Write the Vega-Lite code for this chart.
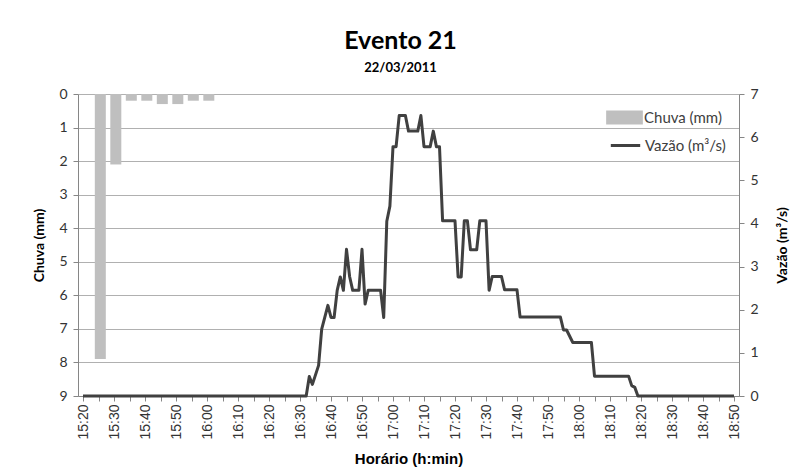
{
  "$schema": "https://vega.github.io/schema/vega-lite/v6.json",
  "width": 661,
  "height": 302,
  "autosize": "none",
  "padding": {"left": 78, "top": 94, "right": 62, "bottom": 78},
  "background": "white",
  "title": {
    "text": "Evento 21",
    "subtitle": "22/03/2011",
    "font": "Lato",
    "fontSize": 25,
    "fontWeight": "bold",
    "color": "#000000",
    "subtitleFont": "Lato",
    "subtitleFontSize": 13,
    "subtitleFontWeight": "bold",
    "subtitleColor": "#000000",
    "subtitlePadding": 8,
    "anchor": "middle",
    "frame": "group",
    "offset": 12,
    "dx": -8
  },
  "datasets": {
    "chuva": [
      {"hora": "2011-03-22T15:25:35Z", "chuva": 7.9},
      {"hora": "2011-03-22T15:30:35Z", "chuva": 2.1},
      {"hora": "2011-03-22T15:35:35Z", "chuva": 0.2},
      {"hora": "2011-03-22T15:40:35Z", "chuva": 0.2},
      {"hora": "2011-03-22T15:45:35Z", "chuva": 0.3},
      {"hora": "2011-03-22T15:50:35Z", "chuva": 0.3},
      {"hora": "2011-03-22T15:55:35Z", "chuva": 0.2},
      {"hora": "2011-03-22T16:00:35Z", "chuva": 0.2}
    ],
    "vazao": [
      {"hora": "2011-03-22T15:20:00Z", "vazao": 0},
      {"hora": "2011-03-22T16:32:00Z", "vazao": 0},
      {"hora": "2011-03-22T16:33:00Z", "vazao": 0.45},
      {"hora": "2011-03-22T16:34:00Z", "vazao": 0.27},
      {"hora": "2011-03-22T16:36:00Z", "vazao": 0.71},
      {"hora": "2011-03-22T16:37:00Z", "vazao": 1.55},
      {"hora": "2011-03-22T16:39:00Z", "vazao": 2.1},
      {"hora": "2011-03-22T16:40:00Z", "vazao": 1.82},
      {"hora": "2011-03-22T16:41:00Z", "vazao": 1.82},
      {"hora": "2011-03-22T16:42:00Z", "vazao": 2.45},
      {"hora": "2011-03-22T16:43:00Z", "vazao": 2.76},
      {"hora": "2011-03-22T16:44:00Z", "vazao": 2.45},
      {"hora": "2011-03-22T16:45:00Z", "vazao": 3.4},
      {"hora": "2011-03-22T16:46:00Z", "vazao": 2.77},
      {"hora": "2011-03-22T16:47:00Z", "vazao": 2.45},
      {"hora": "2011-03-22T16:49:00Z", "vazao": 2.45},
      {"hora": "2011-03-22T16:50:00Z", "vazao": 3.4},
      {"hora": "2011-03-22T16:51:00Z", "vazao": 2.13},
      {"hora": "2011-03-22T16:52:00Z", "vazao": 2.45},
      {"hora": "2011-03-22T16:56:00Z", "vazao": 2.45},
      {"hora": "2011-03-22T16:57:00Z", "vazao": 1.82},
      {"hora": "2011-03-22T16:58:00Z", "vazao": 4.05},
      {"hora": "2011-03-22T16:59:00Z", "vazao": 4.4},
      {"hora": "2011-03-22T17:00:00Z", "vazao": 5.78},
      {"hora": "2011-03-22T17:01:00Z", "vazao": 5.78},
      {"hora": "2011-03-22T17:02:00Z", "vazao": 6.5},
      {"hora": "2011-03-22T17:04:00Z", "vazao": 6.5},
      {"hora": "2011-03-22T17:05:00Z", "vazao": 6.14},
      {"hora": "2011-03-22T17:08:00Z", "vazao": 6.14},
      {"hora": "2011-03-22T17:09:00Z", "vazao": 6.5},
      {"hora": "2011-03-22T17:10:00Z", "vazao": 5.78},
      {"hora": "2011-03-22T17:12:00Z", "vazao": 5.78},
      {"hora": "2011-03-22T17:13:00Z", "vazao": 6.14},
      {"hora": "2011-03-22T17:14:00Z", "vazao": 5.78},
      {"hora": "2011-03-22T17:15:00Z", "vazao": 5.78},
      {"hora": "2011-03-22T17:16:00Z", "vazao": 4.06},
      {"hora": "2011-03-22T17:20:00Z", "vazao": 4.06},
      {"hora": "2011-03-22T17:21:00Z", "vazao": 2.76},
      {"hora": "2011-03-22T17:22:00Z", "vazao": 2.76},
      {"hora": "2011-03-22T17:23:00Z", "vazao": 4.06},
      {"hora": "2011-03-22T17:24:00Z", "vazao": 4.06},
      {"hora": "2011-03-22T17:25:00Z", "vazao": 3.39},
      {"hora": "2011-03-22T17:27:00Z", "vazao": 3.39},
      {"hora": "2011-03-22T17:28:00Z", "vazao": 4.06},
      {"hora": "2011-03-22T17:30:00Z", "vazao": 4.06},
      {"hora": "2011-03-22T17:31:00Z", "vazao": 2.45},
      {"hora": "2011-03-22T17:32:00Z", "vazao": 2.77},
      {"hora": "2011-03-22T17:35:00Z", "vazao": 2.77},
      {"hora": "2011-03-22T17:36:00Z", "vazao": 2.46},
      {"hora": "2011-03-22T17:40:00Z", "vazao": 2.46},
      {"hora": "2011-03-22T17:41:00Z", "vazao": 1.83},
      {"hora": "2011-03-22T17:54:00Z", "vazao": 1.83},
      {"hora": "2011-03-22T17:55:00Z", "vazao": 1.53},
      {"hora": "2011-03-22T17:56:00Z", "vazao": 1.53},
      {"hora": "2011-03-22T17:58:00Z", "vazao": 1.24},
      {"hora": "2011-03-22T18:04:00Z", "vazao": 1.24},
      {"hora": "2011-03-22T18:05:00Z", "vazao": 0.46},
      {"hora": "2011-03-22T18:16:00Z", "vazao": 0.46},
      {"hora": "2011-03-22T18:17:00Z", "vazao": 0.24},
      {"hora": "2011-03-22T18:18:00Z", "vazao": 0.2},
      {"hora": "2011-03-22T18:19:00Z", "vazao": 0},
      {"hora": "2011-03-22T18:50:00Z", "vazao": 0}
    ]
  },
  "layer": [
    {
      "data": {"name": "chuva"},
      "mark": {"type": "bar", "size": 11},
      "encoding": {
        "x": {
          "field": "hora",
          "type": "temporal",
          "scale": {
            "type": "utc",
            "nice": false,
            "domain": [
              {"year": 2011, "month": 3, "date": 22, "hours": 15, "minutes": 20, "utc": true},
              {"year": 2011, "month": 3, "date": 22, "hours": 18, "minutes": 50, "utc": true}
            ]
          },
          "axis": {
            "title": "Horário (h:min)",
            "tickCount": 42,
            "labelExpr": "utcminutes(datum.value) % 10 == 0 ? utcFormat(datum.value, '%H:%M') : ''",
            "labelAngle": -90,
            "labelAlign": "right",
            "labelBaseline": "middle",
            "labelOverlap": false,
            "labelFlush": false,
            "labelFont": "Liberation Sans",
            "labelFontSize": 14,
            "labelColor": "#333333",
            "labelPadding": 3,
            "grid": false,
            "tickSize": 5,
            "tickColor": "#868686",
            "domainColor": "#868686",
            "titleFont": "Liberation Sans",
            "titleFontSize": 15,
            "titleFontWeight": "bold",
            "titleColor": "#000000",
            "titlePadding": 12
          }
        },
        "y": {
          "field": "chuva",
          "type": "quantitative",
          "scale": {"domain": [0, 9], "reverse": true, "nice": false},
          "axis": {
            "title": "Chuva (mm)",
            "values": [0, 1, 2, 3, 4, 5, 6, 7, 8, 9],
            "grid": true,
            "gridColor": "#b0b0b0",
            "tickSize": 5,
            "tickColor": "#868686",
            "domainColor": "#868686",
            "labelFont": "Lato",
            "labelFontSize": 14,
            "labelColor": "#333333",
            "labelPadding": 6,
            "titleFont": "Lato",
            "titleFontSize": 14,
            "titleFontWeight": "bold",
            "titleColor": "#000000",
            "titlePadding": 12
          }
        },
        "color": {
          "datum": "Chuva (mm)",
          "type": "nominal",
          "scale": {"range": ["#bfbfbf"]},
          "legend": {
            "orient": "none",
            "legendX": 528,
            "legendY": 5,
            "title": null,
            "symbolType": "M-1,-0.38L1,-0.38L1,0.38L-1,0.38Z",
            "symbolSize": 1347,
            "symbolStrokeWidth": 0,
            "labelFont": "Lato",
            "labelFontSize": 15,
            "labelColor": "#404040",
            "labelOffset": 1
          }
        }
      }
    },
    {
      "data": {"name": "vazao"},
      "mark": {"type": "line", "strokeWidth": 3, "strokeJoin": "round"},
      "encoding": {
        "x": {"field": "hora", "type": "temporal"},
        "y": {
          "field": "vazao",
          "type": "quantitative",
          "scale": {"domain": [0, 7], "nice": false},
          "axis": {
            "orient": "right",
            "title": "Vazão (m³/s)",
            "titleAngle": -90,
            "titleX": 43,
            "titleY": 151,
            "titleAlign": "center",
            "titleBaseline": "middle",
            "values": [0, 1, 2, 3, 4, 5, 6, 7],
            "grid": false,
            "tickSize": 5,
            "tickColor": "#868686",
            "domainColor": "#868686",
            "labelFont": "Lato",
            "labelFontSize": 14,
            "labelColor": "#333333",
            "labelPadding": 6,
            "titleFont": "Lato",
            "titleFontSize": 14,
            "titleFontWeight": "bold",
            "titleColor": "#000000"
          }
        },
        "stroke": {
          "datum": "Vazão (m³/s)",
          "type": "nominal",
          "scale": {"range": ["#404040"]},
          "legend": {
            "orient": "none",
            "legendX": 531,
            "legendY": 35,
            "title": null,
            "symbolType": "stroke",
            "symbolSize": 864,
            "symbolStrokeWidth": 3,
            "labelFont": "Lato",
            "labelFontSize": 15,
            "labelColor": "#404040",
            "labelOffset": 3
          }
        }
      }
    }
  ],
  "resolve": {"scale": {"y": "independent"}},
  "config": {"view": {"stroke": null}}
}
